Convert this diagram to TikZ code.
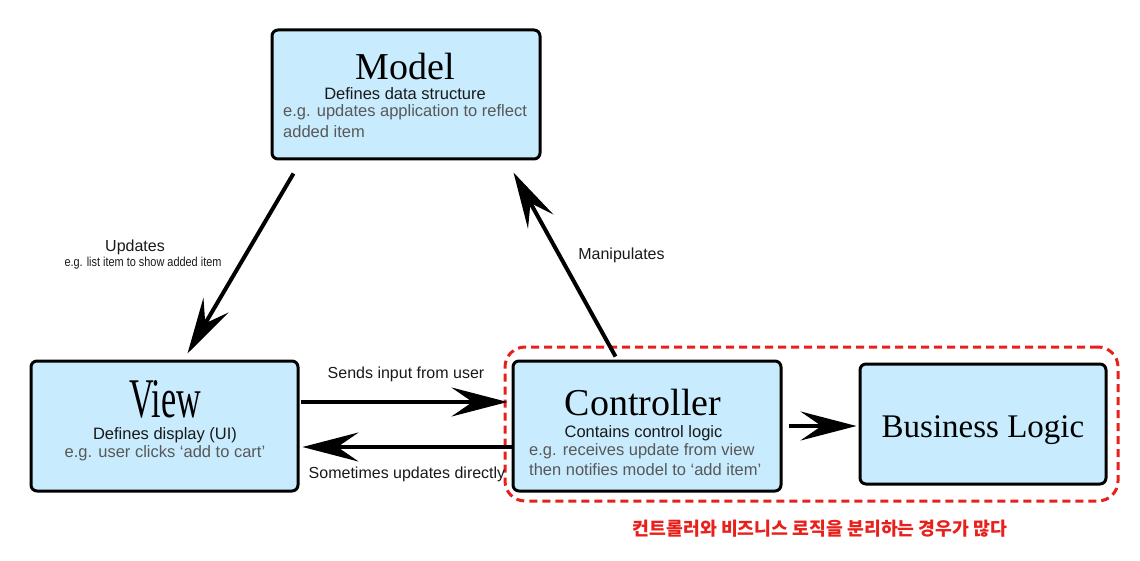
\documentclass[tikz,border=0pt]{standalone}
\usepackage{graphicx}
\usepackage{fontspec}
\setmainfont{Liberation Sans}
\newfontfamily\serif{Liberation Serif}
\newfontfamily\kr{Noto Sans CJK KR}
\usetikzlibrary{arrows.meta,calc}
\definecolor{boxfill}{RGB}{200,236,253}
\definecolor{greytxt}{RGB}{88,88,88}
\definecolor{redline}{RGB}{232,32,28}
\begin{document}
\begin{tikzpicture}[x=1pt,y=-1pt,
 box/.style={draw=black, line width=3pt, rounded corners=6pt, fill=boxfill, inner sep=0pt},
 arr/.style={line width=4pt, -{Stealth[length=56pt,width=29pt,inset=21pt]}},
 title/.style={font=\serif\fontsize{38}{38}\selectfont, anchor=base, inner sep=0pt},
 sub/.style={font=\fontsize{16.5}{20}\selectfont, anchor=base, inner sep=0pt, text=black!90},
 eg/.style={font=\fontsize{16.5}{20}\selectfont, anchor=base west, inner sep=0pt, text=greytxt},
 egc/.style={eg, anchor=base},
 lab/.style={font=\fontsize{16}{19}\selectfont, anchor=base, inner sep=0pt, text=black!90}]

\useasboundingbox (0,0) rectangle (1140,561);

% group outline
\node[draw=redline, line width=3pt, dash pattern=on 8pt off 5pt, rounded corners=20pt,
      minimum width=613pt, minimum height=154pt, inner sep=0pt] (group) at (811.5,424) {};

% boxes
\node[box, minimum width=268pt, minimum height=129pt] (model) at (406,94.5) {};
\node[box, minimum width=267pt, minimum height=130pt] (view) at (164.5,426) {};
\node[box, minimum width=268pt, minimum height=130pt] (ctrl) at (647,426) {};
\node[box, minimum width=246pt, minimum height=120pt] (bl) at (983,424) {};

% model text
\node[title] (modelT) at (405,80) {Model};
\node[sub] (modelS) at (405,100) {Defines data structure};
\node[eg] (modelE1) at (283,117) {e.g. updates application to reflect};
\node[eg] (modelE2) at (283,138) {added item};

% view text
\node[title, font=\serif\fontsize{56}{56}\selectfont] (viewT) at (165,417) {\scalebox{0.61}[1]{View}};
\node[sub] (viewS) at (165,439) {Defines display (UI)};
\node[egc] (viewE) at (165,457) {e.g. user clicks ‘add to cart’};

% controller text
\node[title] (ctrlT) at (643,415) {Controller};
\node[sub] (ctrlS) at (643.5,437) {Contains control logic};
\node[eg] (ctrlE1) at (529,455) {e.g. receives update from view};
\node[eg] (ctrlE2) at (529,475) {then notifies model to ‘add item’};

% business logic
\node[title, font=\serif\fontsize{33}{33}\selectfont] (blT) at (983,437) {Business Logic};

% connectors
\draw[arr] ($(model.south west)+(23,13)$) -- ($(view.north west)+(158,-6)$);
\draw[arr] ($(ctrl.north west)+(104,-3)$) -- ($(model.south east)+(-28,12)$);
\draw[arr] ($(view.east)+(1.5,-24)$) -- ($(ctrl.west)+(-4,-24)$);
\draw[arr] ($(ctrl.west)+(0,21)$) -- ($(view.east)+(3,21)$);
\draw[arr] ($(ctrl.east)+(6,0)$) -- ($(bl.west |- ctrl.east)+(-2,0)$);

% labels
\node[lab] (updL) at (135,252) {Updates};
\node[lab, font=\fontsize{13}{15}\selectfont] (updE) at (143,267) {\scalebox{0.84}[1]{e.g. list item to show added item}};
\node[lab] (manL) at (621.5,260) {Manipulates};
\node[lab] (sendL) at (406,378) {Sends input from user};
\node[lab] (someL) at (407,478) {Sometimes updates directly};

% korean note
\node[anchor=base, inner sep=0pt, text=redline, font=\kr\bfseries\fontsize{18.3}{20}\selectfont] (note) at (820,535) {컨트롤러와 비즈니스 로직을 분리하는 경우가 많다};
\end{tikzpicture}
\end{document}
